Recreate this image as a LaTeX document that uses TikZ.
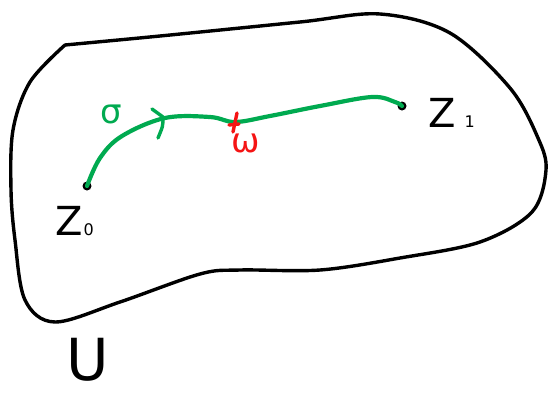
\documentclass[tikz,border=0pt]{standalone}
\usepackage{fontspec}
\setmainfont{DejaVu Sans}
\definecolor{pathgreen}{RGB}{0,170,80}
\definecolor{markred}{RGB}{245,20,20}
\tikzset{
  outline/.style={draw=black, line width=3.4pt, line join=round, line cap=round},
  greenpath/.style={draw=pathgreen, line width=4.2pt, line cap=round, line join=round},
  redmark/.style={draw=markred, line width=3.4pt, line cap=round},
  pt/.style={circle, fill=black, inner sep=0pt, minimum size=9pt},
  lbl/.style={inner sep=0pt, anchor=base west}
}
\begin{document}
\begin{tikzpicture}[x=1pt, y=-1pt]
\useasboundingbox (0,0) rectangle (548,394);
% region U
\draw[outline] plot[smooth, tension=0.55] coordinates {
 (65,45) (160,36) (300,22) (380,14) (450,33) (510,88) (538,138) (546,170)
 (532,212) (480,242) (400,258) (320,270) (240,270) (200,274) (120,302)
 (55,322) (25,300) (15,240) (11,190) (13,130) (30,82) (65,45)};
% points
\node[pt] (z0) at (87,186) {};
\node[pt] (z1) at (402,106) {};
% path sigma
\draw[greenpath] plot[smooth, tension=0.6] coordinates {
 (z0) (100,158) (122,136) (165,118) (210,117) (235,122) (270,116) (320,106) (372,97) (395,102) (z1)};
% arrow chevron
\coordinate (arr) at (163,117);
\draw[greenpath, line width=3.4pt] (152,109) -- (arr) .. controls (163,126) .. (158,138);
% red mark
\coordinate (wpt) at (235,122);
\draw[redmark] (237,113) -- (233,132);
\draw[redmark] (229,125) -- (239,124);
% labels
\node[text=pathgreen, font=\fontsize{34}{34}\selectfont] (sig) at (111,114) {σ};
\node[text=markred, font=\fontsize{34}{34}\selectfont] (om) at (246,143) {ω};
\node[lbl] (lz0) at (55,235) {\fontsize{40}{40}\selectfont Z\hspace{1pt}\fontsize{16}{16}\selectfont 0};
\node[lbl] (lz1) at (428,127) {\fontsize{40}{40}\selectfont Z\hspace{9pt}\fontsize{16}{16}\selectfont 1};
\node[inner sep=0pt, anchor=base, font=\fontsize{58}{58}\selectfont] (U) at (88,380) {U};
\end{tikzpicture}
\end{document}
